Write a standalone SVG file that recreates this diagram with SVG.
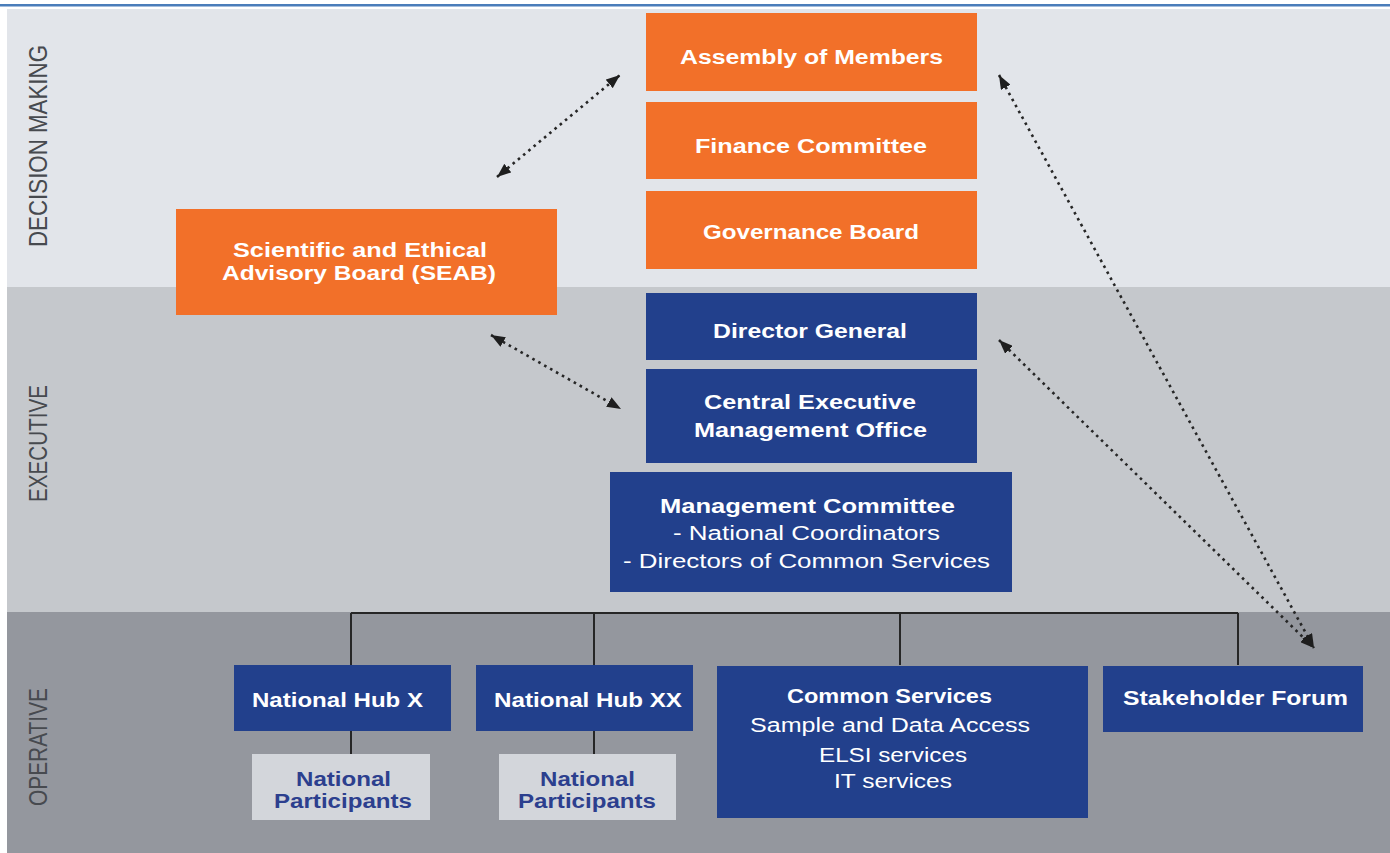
<svg xmlns="http://www.w3.org/2000/svg" width="1390" height="853" viewBox="0 0 1390 853">
<style>
.t{font-family:"Liberation Sans",Arial,sans-serif;font-size:20px;fill:#ffffff;text-anchor:middle}
.b{font-weight:bold}
.side{font-family:"Liberation Sans",Arial,sans-serif;font-size:25px;fill:#474a4f;text-anchor:middle}
.np{font-family:"Liberation Sans",Arial,sans-serif;font-size:20px;font-weight:bold;fill:#2c3f8e;text-anchor:middle}
.or{fill:#f27029}
.bl{fill:#22408c}
.lt{fill:#d3d6db}
.tree{stroke:#262626;stroke-width:2;fill:none}
.dot{stroke:#262626;stroke-width:2.6;stroke-dasharray:2.6 4.2;fill:none;marker-start:url(#ah);marker-end:url(#ah)}
</style>
<defs>
<marker id="ah" viewBox="0 0 14 11" refX="14" refY="5.5" markerWidth="14" markerHeight="11" markerUnits="userSpaceOnUse" orient="auto-start-reverse">
<path d="M0,0 L14,5.5 L0,11 z" fill="#1e1e1e"/>
</marker>
</defs>
<rect x="0" y="0" width="1390" height="853" fill="#ffffff"/>
<rect x="0" y="4" width="1390" height="2.5" fill="#4a7dba"/>
<g id="bands">
<rect x="7" y="9" width="1383" height="278" fill="#e2e5ea"/>
<rect x="7" y="287" width="1383" height="325" fill="#c5c8cc"/>
<rect x="7" y="612" width="1383" height="241" fill="#94979e"/>
<text class="side" transform="translate(47,146) rotate(-90)" textLength="202" lengthAdjust="spacingAndGlyphs">DECISION MAKING</text>
<text class="side" transform="translate(47,443.5) rotate(-90)" textLength="117" lengthAdjust="spacingAndGlyphs">EXECUTIVE</text>
<text class="side" transform="translate(47,747) rotate(-90)" textLength="118" lengthAdjust="spacingAndGlyphs">OPERATIVE</text>
</g>
<g id="connectors">
<path class="tree" d="M351,613 H1238 M351,613 V665 M594,613 V665 M900,613 V665 M1238,613 V665 M351,731 V754 M594,731 V754"/>
<line class="dot" x1="497" y1="177" x2="620" y2="75"/>
<line class="dot" x1="491" y1="335" x2="621" y2="409"/>
<line class="dot" x1="999" y1="75" x2="1314" y2="648"/>
<line class="dot" x1="999" y1="340" x2="1314" y2="648"/>
</g>
<g id="assembly">
<rect class="or" x="646" y="13" width="331" height="78"/>
<text class="t b" x="811.5" y="64" textLength="263" lengthAdjust="spacingAndGlyphs">Assembly of Members</text>
</g>
<g id="finance">
<rect class="or" x="646" y="102" width="331" height="77"/>
<text class="t b" x="811" y="153" textLength="232" lengthAdjust="spacingAndGlyphs">Finance Committee</text>
</g>
<g id="governance">
<rect class="or" x="646" y="191" width="331" height="78"/>
<text class="t b" x="811" y="239" textLength="216" lengthAdjust="spacingAndGlyphs">Governance Board</text>
</g>
<g id="seab">
<rect class="or" x="176" y="209" width="381" height="106"/>
<text class="t b" x="360" y="257" textLength="254" lengthAdjust="spacingAndGlyphs">Scientific and Ethical</text>
<text class="t b" x="359" y="280" textLength="274" lengthAdjust="spacingAndGlyphs">Advisory Board (SEAB)</text>
</g>
<g id="director">
<rect class="bl" x="646" y="293" width="331" height="67"/>
<text class="t b" x="810" y="338" textLength="194" lengthAdjust="spacingAndGlyphs">Director General</text>
</g>
<g id="cemo">
<rect class="bl" x="646" y="369" width="331" height="94"/>
<text class="t b" x="810" y="409" textLength="212" lengthAdjust="spacingAndGlyphs">Central Executive</text>
<text class="t b" x="810.5" y="437" textLength="233" lengthAdjust="spacingAndGlyphs">Management Office</text>
</g>
<g id="mgmt">
<rect class="bl" x="610" y="472" width="402" height="120"/>
<text class="t b" x="807.5" y="513" textLength="295" lengthAdjust="spacingAndGlyphs">Management Committee</text>
<text class="t" x="806.5" y="540" textLength="267" lengthAdjust="spacingAndGlyphs">- National Coordinators</text>
<text class="t" x="806.5" y="568" textLength="367" lengthAdjust="spacingAndGlyphs">- Directors of Common Services</text>
</g>
<g id="hubx">
<rect class="bl" x="234" y="665" width="217" height="66"/>
<text class="t b" x="337.5" y="707" textLength="171" lengthAdjust="spacingAndGlyphs">National Hub X</text>
</g>
<g id="hubxx">
<rect class="bl" x="476" y="665" width="217" height="66"/>
<text class="t b" x="588" y="707" textLength="188" lengthAdjust="spacingAndGlyphs">National Hub XX</text>
</g>
<g id="np1">
<rect class="lt" x="252" y="754" width="178" height="66"/>
<text class="np" x="343.5" y="786" textLength="95" lengthAdjust="spacingAndGlyphs">National</text>
<text class="np" x="343" y="808" textLength="138" lengthAdjust="spacingAndGlyphs">Participants</text>
</g>
<g id="np2">
<rect class="lt" x="499" y="754" width="177" height="66"/>
<text class="np" x="587.5" y="786" textLength="95" lengthAdjust="spacingAndGlyphs">National</text>
<text class="np" x="587" y="808" textLength="138" lengthAdjust="spacingAndGlyphs">Participants</text>
</g>
<g id="common">
<rect class="bl" x="717" y="666" width="371" height="152"/>
<text class="t b" x="889.5" y="703" textLength="205" lengthAdjust="spacingAndGlyphs">Common Services</text>
<text class="t" x="890" y="732" textLength="280" lengthAdjust="spacingAndGlyphs">Sample and Data Access</text>
<text class="t" x="893" y="762" textLength="148" lengthAdjust="spacingAndGlyphs">ELSI services</text>
<text class="t" x="893" y="788" textLength="118" lengthAdjust="spacingAndGlyphs">IT services</text>
</g>
<g id="stakeholder">
<rect class="bl" x="1103" y="666" width="260" height="66"/>
<text class="t b" x="1235.5" y="705" textLength="225" lengthAdjust="spacingAndGlyphs">Stakeholder Forum</text>
</g>
</svg>
